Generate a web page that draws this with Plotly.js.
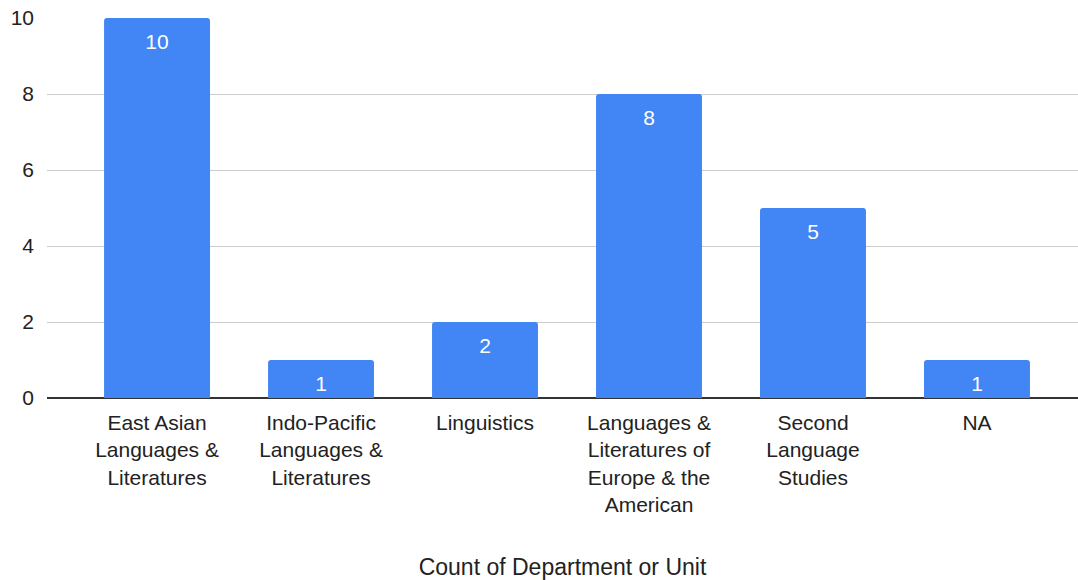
<!DOCTYPE html>
<html>
<head>
<meta charset="utf-8">
<script src="https://cdn.plot.ly/plotly-3.0.1.min.js"></script>
<style>html,body{margin:0;padding:0;background:#fff;}#chart{width:1078px;height:580px;}</style>
</head>
<body>
<div id="chart"></div>
<script>
const categories = [
  "East Asian<br>Languages &<br>Literatures",
  "Indo-Pacific<br>Languages &<br>Literatures",
  "Linguistics",
  "Languages &<br>Literatures of<br>Europe & the<br>American",
  "Second<br>Language<br>Studies",
  "NA"
];
const counts = [10, 1, 2, 8, 5, 1];
const yTicks = [0, 2, 4, 6, 8, 10];
const xTitle = "Count of Department or Unit";

const FONT = "Liberation Sans, Arial, sans-serif";

const bars = {
  type: "bar",
  x: categories,
  y: counts,
  width: 0.646,
  marker: {color: "#4285F4", line: {width: 0}},
  hoverinfo: "skip",
  showlegend: false
};
const labels = {
  type: "scatter",
  mode: "markers+text",
  x: categories,
  y: counts,
  text: counts.map(String),
  textposition: "bottom center",
  textfont: {family: FONT, size: 21, color: "#ffffff"},
  marker: {size: 22, opacity: 0},
  hoverinfo: "skip",
  showlegend: false,
  cliponaxis: false
};

const layout = {
  width: 1078,
  height: 580,
  margin: {l: 47, r: 0, t: 18, b: 182},
  paper_bgcolor: "#ffffff",
  plot_bgcolor: "#ffffff",
  barcornerradius: 3,
  font: {family: FONT, color: "#222222"},
  xaxis: {
    type: "category",
    range: [-0.671, 5.616],
    showgrid: false,
    showline: false,
    ticks: "",
    tickfont: {family: FONT, size: 21, color: "#222222"},
    ticklabelstandoff: 10,
    automargin: false,
    fixedrange: true,
    title: {text: xTitle, font: {family: FONT, size: 23, color: "#222222"}, standoff: 57}
  },
  yaxis: {
    range: [0, 10],
    tickvals: yTicks,
    ticktext: yTicks.map(String),
    showgrid: true,
    gridcolor: "#cccccc",
    gridwidth: 1,
    zeroline: true,
    zerolinecolor: "#333333",
    zerolinewidth: 1.5,
    showline: false,
    ticks: "",
    tickfont: {family: FONT, size: 21, color: "#222222"},
    ticklabelstandoff: 12,
    automargin: false,
    fixedrange: true
  }
};

Plotly.newPlot("chart", [bars, labels], layout, {displayModeBar: false, staticPlot: true});
</script>
</body>
</html>
